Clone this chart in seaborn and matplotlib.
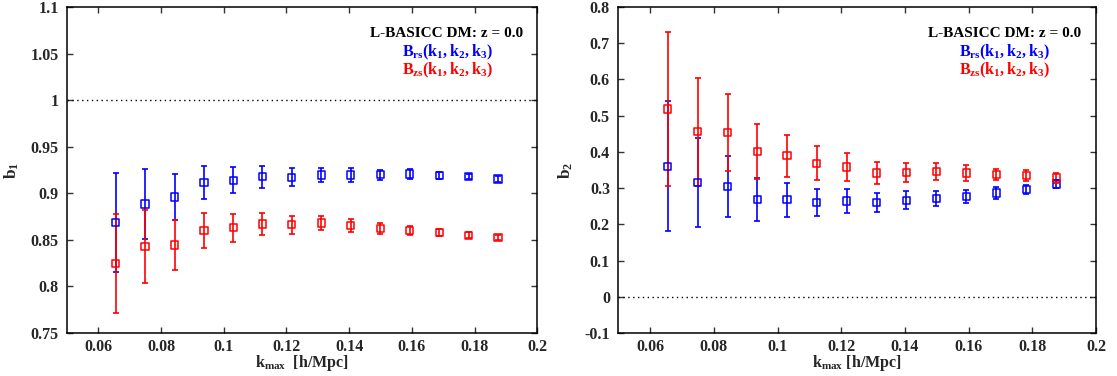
import numpy as np
import pandas as pd
import matplotlib
matplotlib.use("Agg")
import matplotlib.pyplot as plt
from matplotlib.ticker import FuncFormatter, MultipleLocator
import seaborn as sns

# k_max values of the bias fits [h/Mpc]
k_max = [0.0655, 0.0749, 0.0843, 0.0937, 0.1030, 0.1123, 0.1217,
         0.1311, 0.1405, 0.1499, 0.1593, 0.1687, 0.1781, 0.1875]

# linear bias b1
b1_rs = [0.869, 0.8885, 0.896, 0.9114, 0.9139, 0.9178, 0.9171,
         0.9196, 0.9196, 0.920, 0.9207, 0.9189, 0.9178, 0.9153]
b1_rs_err = [0.053, 0.038, 0.025, 0.018, 0.014, 0.012, 0.0097,
             0.008, 0.0072, 0.0055, 0.0055, 0.0035, 0.003, 0.003]
b1_zs = [0.8244, 0.8427, 0.8445, 0.8598, 0.863, 0.867, 0.8663,
         0.8681, 0.8652, 0.862, 0.8602, 0.858, 0.8549, 0.8523]
b1_zs_err = [0.053, 0.039, 0.0265, 0.019, 0.0148, 0.0123, 0.0097,
             0.008, 0.007, 0.0057, 0.0052, 0.004, 0.003, 0.003]

# quadratic bias b2
b2_rs = [0.3602, 0.315, 0.3039, 0.268, 0.268, 0.2597, 0.2644,
         0.2597, 0.2663, 0.2708, 0.2763, 0.2865, 0.2967, 0.3113]
b2_rs_err = [0.18, 0.123, 0.085, 0.059, 0.0465, 0.0377, 0.033,
             0.027, 0.025, 0.02, 0.018, 0.016, 0.013, 0.012]
b2_zs = [0.5184, 0.4557, 0.453, 0.4016, 0.3895, 0.3685, 0.3583,
         0.3417, 0.3436, 0.3453, 0.3417, 0.337, 0.3342, 0.3279]
b2_zs_err = [0.2125, 0.149, 0.107, 0.0755, 0.058, 0.047, 0.038,
             0.03, 0.026, 0.023, 0.021, 0.016, 0.0155, 0.014]

sns.set_theme(style="ticks")
plt.rcParams["font.family"] = ["Liberation Serif", "DejaVu Serif"]
plt.rcParams["font.weight"] = "bold"
plt.rcParams["mathtext.fontset"] = "custom"
plt.rcParams["mathtext.rm"] = "Liberation Serif:bold"
plt.rcParams["mathtext.bf"] = "Liberation Serif:bold"
plt.rcParams["mathtext.it"] = "Liberation Serif:bold"

BLUE = "#0000ff"
RED = "#ff0000"

fig = plt.figure(figsize=(11.17, 3.76), dpi=100)
ax1 = fig.add_axes([0.060, 0.1144, 0.421, 0.8670])
ax2 = fig.add_axes([0.5535, 0.1144, 0.4277, 0.8670])


def draw_panel(ax, rs, rs_err, zs, zs_err, ylim, ystep, ref, ylabel, xlabel):
    df = pd.DataFrame({"k": k_max * 2,
                       "b": list(rs) + list(zs),
                       "err": list(rs_err) + list(zs_err),
                       "space": ["rs"] * len(k_max) + ["zs"] * len(k_max)})
    ax.axhline(ref, color="black", ls=(0, (1, 2.5)), lw=1.0, zorder=1)
    for space, col in (("rs", BLUE), ("zs", RED)):
        sub = df[df["space"] == space]
        ax.errorbar(sub["k"], sub["b"], yerr=sub["err"], fmt="none",
                    ecolor=col, elinewidth=1.2, capsize=2.4, capthick=1.2,
                    zorder=2)
        sns.scatterplot(data=sub, x="k", y="b", ax=ax, marker="s", s=27,
                        facecolor="none", edgecolor=col, linewidth=1.1,
                        legend=False, zorder=3)
    ax.set_xlim(0.05, 0.2)
    ax.set_ylim(*ylim)
    ax.yaxis.set_major_locator(MultipleLocator(ystep))
    fmt = FuncFormatter(lambda v, p: f"{round(v, 4):g}")
    ax.xaxis.set_major_formatter(fmt)
    ax.yaxis.set_major_formatter(fmt)
    ax.set_xticks([t for t in np.arange(0.06, 0.2001, 0.02)])
    ax.tick_params(direction="in", length=4, width=1.0, top=True,
                   right=True, labelsize=11.5, color="#333333")
    ax.tick_params(axis="x", pad=4)
    ax.tick_params(axis="y", pad=6)
    for s in ax.spines.values():
        s.set_visible(True)
        s.set_linewidth(1.1)
        s.set_color("black")
    ax.set_xlabel(xlabel, fontsize=11.5, fontweight="bold", labelpad=-1)
    ax.set_ylabel(ylabel, fontsize=12.5, fontweight="bold", labelpad=7)
    ax.text(0.808, 0.919, "L-BASICC DM: z = 0.0", transform=ax.transAxes,
            ha="center", va="center", fontsize=11, fontweight="bold",
            color="black")
    ax.text(0.808, 0.861, r"$\mathbf{B_{rs}(k_1, k_2, k_3)}$",
            transform=ax.transAxes, ha="center", va="center", fontsize=11.5,
            color=BLUE)
    ax.text(0.808, 0.805, r"$\mathbf{B_{zs}(k_1, k_2, k_3)}$",
            transform=ax.transAxes, ha="center", va="center", fontsize=11.5,
            color=RED)


draw_panel(ax1, b1_rs, b1_rs_err, b1_zs, b1_zs_err, (0.75, 1.1), 0.05, 1.0,
           r"$\mathbf{b_1}$", r"$\mathbf{k_{max}}$  [h/Mpc]")
draw_panel(ax2, b2_rs, b2_rs_err, b2_zs, b2_zs_err, (-0.1, 0.8), 0.1, 0.0,
           r"$\mathbf{b_2}$", r"$\mathbf{k_{max}}$ [h/Mpc]")

fig.savefig("out.png", dpi=100, facecolor="white")
